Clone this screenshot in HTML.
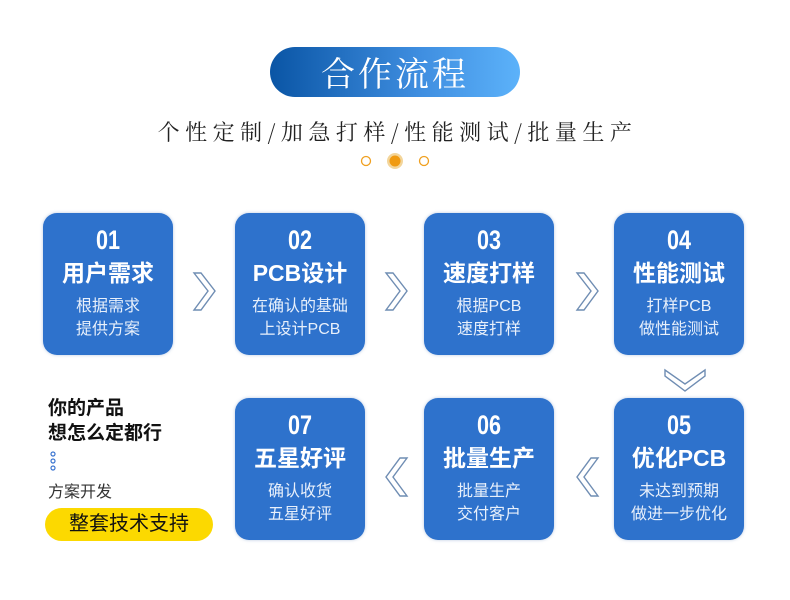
<!DOCTYPE html>
<html><head><meta charset="utf-8"><style>
body{margin:0;width:790px;height:600px;background:#fff;position:relative;overflow:hidden;font-family:"Liberation Sans","Noto Sans CJK SC",sans-serif}
.pill{position:absolute;left:270px;top:47px;width:250px;height:50px;border-radius:25px;background:linear-gradient(90deg,#0a55a5,#3f8ee0 60%,#5cb2fa);color:#fff;font-size:34px;text-align:center;line-height:50px;letter-spacing:3px;font-family:"Noto Serif CJK SC","Noto Sans CJK SC",sans-serif}
.sub{position:absolute;left:0;width:790px;top:116px;text-align:center;font-size:22px;color:#222;letter-spacing:5.5px;text-indent:5px;font-family:"Noto Serif CJK SC",serif}
.box{position:absolute;width:130px;height:142px;background:#2e72cc;border-radius:14px;color:#fff;text-align:center;box-shadow:0 0 3px rgba(80,120,180,.4)}
.n{font-size:27px;font-weight:bold;margin-top:12px;line-height:30px;font-family:"Liberation Sans Narrow","Liberation Sans",sans-serif;transform:scaleX(.8)}
.t{font-size:23px;font-weight:bold;line-height:30px;margin-top:3px}
.d{font-size:16px;line-height:23px;margin-top:7px;color:#e8f0fb}
svg{position:absolute}
</style></head><body>
<div class="pill">合作流程</div>
<div class="sub">个性定制/加急打样/性能测试/批量生产</div>
<svg style="left:355px;top:150px" width="80" height="24">
<circle cx="11" cy="11" r="4.5" fill="none" stroke="#f0a020" stroke-width="1.3"/>
<circle cx="40" cy="11" r="8" fill="#f3d59a"/><circle cx="40" cy="11" r="5.5" fill="#f09a10"/>
<circle cx="69" cy="11" r="4.5" fill="none" stroke="#f0a020" stroke-width="1.3"/>
</svg>

<div class="box" style="left:43px;top:213px"><div class="n">01</div><div class="t">用户需求</div><div class="d">根据需求<br>提供方案</div></div>
<div class="box" style="left:235px;top:213px"><div class="n">02</div><div class="t">PCB设计</div><div class="d">在确认的基础<br>上设计PCB</div></div>
<div class="box" style="left:424px;top:213px"><div class="n">03</div><div class="t">速度打样</div><div class="d">根据PCB<br>速度打样</div></div>
<div class="box" style="left:614px;top:213px"><div class="n">04</div><div class="t">性能测试</div><div class="d">打样PCB<br>做性能测试</div></div>
<div class="box" style="left:614px;top:398px"><div class="n">05</div><div class="t">优化PCB</div><div class="d">未达到预期<br>做进一步优化</div></div>
<div class="box" style="left:424px;top:398px"><div class="n">06</div><div class="t">批量生产</div><div class="d">批量生产<br>交付客户</div></div>
<div class="box" style="left:235px;top:398px"><div class="n">07</div><div class="t">五星好评</div><div class="d">确认收货<br>五星好评</div></div>

<svg style="left:0;top:0" width="790" height="600" fill="none" stroke="#6f8db3" stroke-width="1.4" stroke-linejoin="miter">
<polygon points="194,273 201,273 215,291 201,310 194,310 208,291"/>
<polygon points="386,273 393,273 407,291 393,310 386,310 400,291"/>
<polygon points="577,273 584,273 598,291 584,310 577,310 591,291"/>
<polygon points="665,370 665,376 685,391 705,376 705,370 685,384"/>
<polygon points="598,458 591,458 577,477 591,496 598,496 584,477"/>
<polygon points="407,458 400,458 386,477 400,496 407,496 393,477"/>
</svg>

<div style="position:absolute;left:48px;top:396px;font-size:19px;font-weight:bold;line-height:25px;color:#111">你的产品<br>想怎么定都行</div>
<svg style="left:49px;top:450px" width="10" height="30"><g fill="none" stroke="#3a74d0" stroke-width="1.2"><circle cx="4" cy="4" r="2"/><circle cx="4" cy="11" r="2"/><circle cx="4" cy="18" r="2"/></g></svg>
<div style="position:absolute;left:48px;top:478px;font-size:16px;color:#333">方案开发</div>
<div style="position:absolute;left:45px;top:508px;width:168px;height:33px;border-radius:17px;background:#fcd900;font-size:20px;line-height:33px;text-align:center;color:#111">整套技术支持</div>
</body></html>
